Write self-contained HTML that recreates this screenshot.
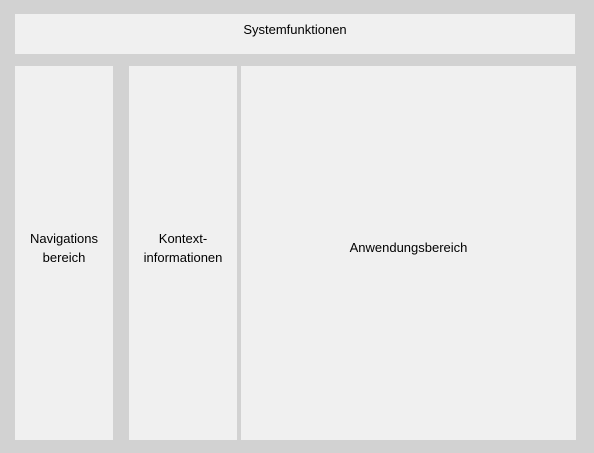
<!DOCTYPE html>
<html><head><meta charset="utf-8"><style>
html,body{margin:0;padding:0;}
body{width:594px;height:453px;background:#d2d2d2;position:relative;overflow:hidden;font-family:"Liberation Sans",sans-serif;font-size:13px;color:#000;}
.b{position:absolute;background:#f0f0f0;display:flex;align-items:center;justify-content:center;text-align:center;line-height:19px;box-sizing:border-box;padding-bottom:11px;}
</style></head><body>
<div class="b" style="left:15px;top:14px;width:560px;height:40px;padding-bottom:9px;">Systemfunktionen</div>
<div class="b" style="left:15px;top:66px;width:98px;height:374px;">Navigations<br>bereich</div>
<div class="b" style="left:129px;top:66px;width:108px;height:374px;">Kontext-<br>informationen</div>
<div class="b" style="left:241px;top:66px;width:335px;height:374px;">Anwendungsbereich</div>
</body></html>
